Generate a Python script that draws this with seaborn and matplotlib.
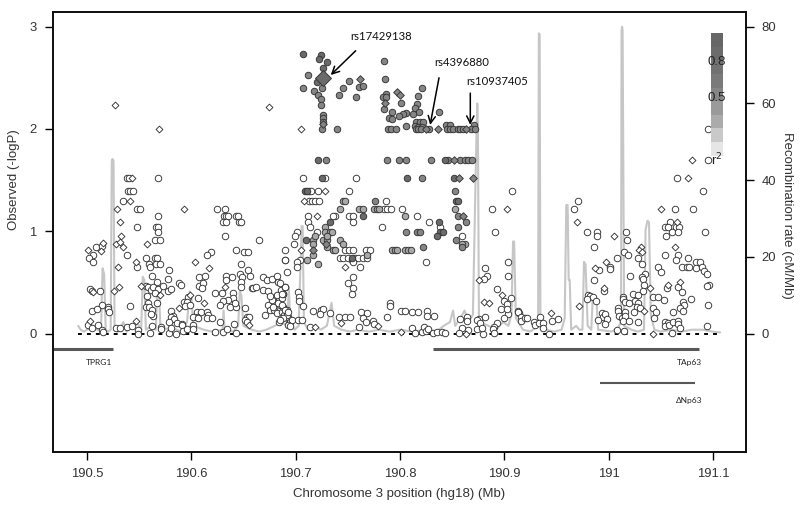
import matplotlib
matplotlib.use("Agg")
import matplotlib.pyplot as plt
import pandas as pd
import seaborn as sns

BASE_MB = 190.0

white_circles = [
(.5387,1.517),(.5406,1.517),(.5677,1.517),(.5396,1.393),(.5412,1.393),(.5444,1.393),(.5342,1.295),
(.5482,1.217),(.5508,1.217),(.6243,1.217),(.6326,1.217),(.5677,1.15),(.6313,1.15),(.6332,1.15),(.6355,1.15),(.6428,1.15),(.6444,1.15),
(.6307,1.093),(.6332,1.093),(.646,1.093),(.6473,1.093),(.5479,1.04),(.5661,1.04),(.5677,1.04),(.5684,.995),(.632,.953),
(.5652,.917),(.5703,.917),(.5083,.849),(.514,.855),(.506,.767),(.5019,.741),(.5054,.695),(.5386,.767),(.5565,.741),(.5652,.741),(.5668,.741),
(.6425,.816),(.6505,.8),(.6546,.793),(.6898,.82),(.6895,.718),(.6649,.917),(.6188,.793),(.6153,.767),(.5482,.653),
(.5594,.676),(.5604,.647),(.5661,.676),(.57,.676),(.562,.562),(.5786,.617),(.5773,.532),(.5674,.5),
(.6473,.676),(.6547,.617),(.6467,.578),(.6483,.555),(.6563,.565),(.6329,.565),(.6387,.549),(.6329,.52),
(.6077,.549),(.6131,.565),(.6077,.467),(.6109,.49),(.6099,.441),(.6473,.5),(.6473,.451),(.6579,.441),(.6595,.441),(.662,.457),
(.669,.549),(.6729,.52),(.677,.532),(.6818,.562),(.6834,.506),(.5885,.49),(.5898,.474),
(.5565,.467),(.5588,.451),(.5613,.425),(.5636,.458),(.5684,.44),(.5732,.464),(.5773,.419),(.5802,.432),
(.5028,.432),(.5044,.419),(.5124,.415),(.5655,.399),(.5572,.366),(.5971,.36),(.6061,.344),(.6227,.396),(.6297,.399),(.6403,.399),(.6403,.344),
(.6355,.327),(.6307,.317),(.6275,.278),(.6371,.262),(.6428,.262),(.6419,.295),(.5671,.295),(.5581,.295),(.5562,.262),(.5594,.262),(.5415,.272),
(.514,.282),(.5204,.262),(.5198,.236),(.5214,.213),(.5051,.22),(.5092,.236),(.5933,.31),(.5955,.31),(.5939,.272),(.5987,.278),
(.6058,.207),(.609,.213),(.6051,.164),(.6019,.164),(.6067,.148),(.6153,.207),(.6163,.181),(.6147,.155),(.6195,.155),
(.562,.23),(.5636,.174),(.5613,.19),(.5808,.22),(.5827,.174),(.5802,.158),(.5834,.142),(.5783,.116),(.5859,.106),(.5907,.09),
(.6515,.252),(.6531,.164),(.6556,.164),(.6515,.132),(.6531,.116),(.6278,.109),(.6412,.09),
(.5013,.083),(.5051,.05),(.5102,.08),(.514,.034),(.5156,.018),(.5275,.05),(.5316,.05),(.5386,.067),(.5428,.076),(.5492,.034),(.5492,0),
(.562,.076),(.5706,.067),(.5706,.04),(.5604,.008),(.5786,.008),(.5802,.05),(.585,0),(.5907,.083),(.5917,.024),(.5962,.04),(.6019,.083),(.6019,.04),
(.6227,.018),(.6307,.018),(.6345,.04),(.6425,.01),
(.669,.425),(.6738,.415),(.6786,.35),(.6818,.376),(.6857,.425),(.6898,.458),(.6882,.386),(.6732,.278),(.677,.327),(.6754,.229),(.6706,.181),
(.6793,.229),(.6818,.197),(.685,.278),(.6866,.213),(.6882,.262),(.6914,.229),(.693,.164),(.6844,.116),(.694,.1),(.6892,.181),(.6834,.295),(.6754,.366),(.6866,.344),(.678,.262),
(.7074,1.517),(.7281,1.517),(.7579,1.517),(.7131,1.393),(.7144,1.393),(.7218,1.393),(.7512,1.393),(.9071,1.393),
(.7131,1.295),(.716,1.295),(.7186,1.295),(.7227,1.295),(.7869,1.295),(.7847,1.217),(.7873,1.217),(.7917,1.217),(.8023,1.217),(.8886,1.217),
(.7115,1.15),(.7377,1.15),(.7355,1.15),(.7515,1.15),(.7553,1.15),(.816,1.15),(.7122,1.093),(.755,1.093),(.8279,1.093),(.7138,1.04),(.7825,1.04),(.8384,1.04),
(.701,.995),(.7208,.995),(.8911,.995),(.6994,.953),(.8598,.953),(.6984,.88),(.7473,.82),(.7512,.82),(.7547,.82),(.7675,.82),(.7713,.82),
(.7425,.741),(.7457,.741),(.7505,.741),(.7569,.741),(.7601,.741),(.7649,.741),(.7687,.741),(.6895,.718),(.7042,.718),(.7544,.718),
(.7016,.695),(.7547,.695),(.8247,.695),(.7617,.653),(.701,.653),(.6914,.6),(.7547,.549),(.7505,.49),(.7547,.441),(.7537,.383),
(.8819,.637),(.8831,.562),(.8806,.532),(.904,.695),(.904,.565),(.8927,.432),(.8998,.32),(.9062,.344),(.9023,.288),(.8966,.236),(.9039,.187),(.9023,.236),(.8998,.155),(.9135,.22),(.9145,.2),
(.7026,.402),(.7035,.36),(.7035,.317),(.7067,.272),(.685,.49),(.6898,.458),(.6882,.386),(.6866,.386),
(.6866,.278),(.6898,.23),(.6914,.18),(.693,.215),(.6882,.148),(.6946,.116),(.6962,.132),(.7026,.132),(.7058,.132),(.693,.083),(.6946,.073),(.685,.132),
(.7163,.22),(.724,.23),(.7259,.24),(.7234,.19),(.7329,.197),(.7138,.067),(.7419,.164),(.7473,.164),(.7521,.164),
(.7627,.207),(.7681,.204),(.7649,.148),(.7675,.116),(.7611,.067),(.7745,.125),(.7754,.09),(.7873,.164),(.7905,.301),(.7905,.268),
(.801,.223),(.8048,.216),(.8119,.213),(.8176,.207),(.8256,.22),(.8256,.174),(.8323,.174),
(.8112,.05),(.8144,.008),(.8208,.018),(.8234,.067),(.825,.024),(.8272,.04),(.8314,.008),(.8352,.018),(.84,.018),(.8432,.01),
(.8576,.142),(.864,.164),(.864,.125),(.8592,.05),(.8566,.01),(.8656,.034),(.8758,.142),(.8816,.164),(.8736,.132),(.8768,.1),(.8736,.04),(.88,0),(.879,.05),
(.8927,.1),(.8905,.067),(.8895,.04),(.8905,.008),
(1.066,1.517),(1.091,1.393),(.9711,1.295),(.9666,1.217),(1.0641,1.217),(1.0807,1.217),(1.059,1.093),(1.0542,1.04),(1.0574,1.04),(1.0644,1.04),(1.0679,1.04),
(1.0606,.995),(1.0664,.995),(1.0549,.953),(1.0922,.995),(.9791,.995),(.9887,.995),(.9887,.953),(1.0168,.995),(1.0178,.917),(.9865,.85),
(1.0149,.793),(1.0184,.767),(1.0085,.741),(1.0286,.741),(1.0542,.767),(1.067,.767),(1.0648,.718),(1.0766,.741),
(1.0015,.653),(1.0015,.632),(.9913,.617),(1.0325,.676),(1.0478,.653),(1.0504,.6),(1.0708,.653),(1.075,.653),(1.0772,.653),(1.0836,.695),(1.0874,.695),
(1.0839,.637),(1.0894,.653),(1.0916,.614),(1.0948,.585),(.9865,.52),(1.021,.565),(1.035,.58),(1.0325,.555),(1.0334,.532),(1.0344,.477),(1.0334,.419),
(1.0565,.441),(1.067,.458),(1.0702,.405),(1.0964,.477),(1.0941,.464),(.996,.415),(.98,.376),(.9823,.366),(.9797,.334),(.9855,.36),(.9881,.317),
(1.0143,.36),(1.0143,.334),(1.0159,.308),(1.02,.295),(1.0239,.383),(1.0287,.376),(1.0255,.32),(1.028,.295),(1.027,.262),(1.043,.36),(1.0478,.36),
(1.0536,.327),(1.0715,.31),(1.0724,.278),(1.0686,.246),(1.0718,.223),(1.079,.334),(1.0958,.275),(1.0302,.246),(1.0248,.213),(1.0424,.252),(1.0453,.213),(1.044,.148),(1.0622,.207),
(1.0095,.246),(1.0095,.223),(1.0159,.213),(1.0101,.174),(1.0127,.148),(1.0159,.174),(1.0143,.125),(1.02,.125),(1.0286,.116),
(.9935,.203),(.9951,.164),(.9897,.132),(.9968,.19),(.9984,.142),(.9968,.093),(1.0085,.034),(1.0149,.024),(1.0606,.008),
(1.0542,.116),(1.0574,.106),(1.0542,.076),(1.058,.083),(1.0622,.116),(1.0664,.125),(1.0664,.093),(1.0686,.05),(1.0942,.076),
(.9136,.213),(.9162,.164),(.9162,.125),(.92,.148),(.9222,.148),(.9286,.116),(.9296,.083),(.9344,.164),(.9337,.106),(.9376,.106),(.9369,.05),(.943,0),(.9455,.125),(.9513,.138),
(1.0954,1.995),(1.0954,1.695),
]

white_diamonds = [
(.5265,2.23),(.5687,2.0),(.6745,2.21),(.7051,1.995),(.5428,1.517),(.5415,1.295),(.5291,1.217),(.5927,1.217),(.5316,1.093),(.5326,.953),
(.5275,.88),(.5316,.897),(.5345,.85),(.5578,.88),(.5156,.888),(.5134,.81),(.5013,.816),(.6035,.695),(.6169,.637),(.547,.695),(.53,.653),
(.5517,.467),(.506,.402),(.5262,.415),(.531,.451),(.57,.376),(.5987,.376),(.6323,.451),(.5885,.25),(.6125,.301),(.6553,.083),(.5028,.125),(.547,.125),
(.7281,1.393),(.7083,1.295),(.7208,1.15),(.903,1.217),(.7051,.82),(.7473,.653),(.8761,.52),(.8975,.376),(.8809,.31),(.8857,.295),
(.7186,.067),(.7432,.106),(.7793,.073),(.801,.018),(.863,0),
(1.0766,1.517),(1.0504,1.217),(.97,1.093),(1.0654,1.093),(1.005,.953),(1.0312,.849),(1.029,.816),(1.0325,.793),(1.0638,.85),(.9976,.695),(.9868,.637),
(1.0398,.441),(1.0574,.477),(1.0686,.503),(.996,.441),(.9714,.268),(1.0344,.22),(1.043,0),(.9446,.2),(1.0797,1.695),
]

light_circles = [
(.7451,1.295),(.7473,1.295),(.7428,1.217),(.7611,1.217),(.7649,1.217),(.7754,1.217),(.7777,1.217),(.7799,1.217),(.8531,1.217),
(.8045,1.15),(.7281,1.04),(.7281,.995),(.733,.995),(.7345,.995),(.717,.917),(.7265,.917),(.7297,.917),(.7425,.917),(.717,.88),(.7457,.88),(.8624,.88),(.8598,.88),
(.7361,.82),(.7377,.82),(.7927,.82),(.7953,.82),(.7975,.82),(.8048,.82),(.8074,.82),(.8106,.82),(.717,.767),(.7687,.767),(.7112,.718),(.7218,.676),(.7186,.953),(.7297,.953),(.7297,.85),
]

gray_circles = [
(.7291,1.696),(.7873,1.696),(.7991,1.696),(.8055,1.696),(.8298,1.696),(.8464,1.696),(.8576,1.696),(.8624,1.696),(.8656,1.696),(.8688,1.696),
(.8211,1.517),(.8531,1.393),(.7758,1.295),(.8553,1.15),(.8633,1.093),(.8553,1.04),(.8058,.995),(.816,.995),(.8192,.995),(.8537,.917),(.8224,.85),(.8598,.85),
(.7122,2.523),(.7074,2.403),(.725,2.403),(.7176,2.373),(.7211,2.328),(.7243,2.289),(.7243,2.23),(.7266,2.136),(.7266,2.103),(.7266,2.07),(.725,1.995),(.7397,1.995),
(.7508,2.471),(.7451,2.403),(.7419,2.331),(.7576,2.308),(.7608,2.409),(.7646,2.419),(.7847,2.667),(.7857,2.484),(.7863,2.341),(.784,2.315),(.7866,2.308),(.7847,2.191),
(.8007,2.25),(.8215,2.396),(.8176,2.325),(.816,2.243),(.8144,2.201),(.8186,2.168),(.7921,2.168),(.8055,2.152),(.8026,2.142),(.7994,2.129),(.8129,2.149),(.8371,2.168),
(.7895,2.109),(.7927,2.093),(.8055,2.028),(.8154,2.07),(.8192,2.07),(.8224,2.07),(.8144,2.028),(.8176,2.022),(.8208,2.022),(.8282,1.995),(.8442,2.038),(.848,2.038),(.8713,2.038),
(.7889,1.995),(.7914,1.995),(.7962,1.995),(.8154,1.995),(.8176,1.995),(.8198,1.995),(.8448,1.995),(.848,1.995),(.8512,1.995),(.8553,1.995),(.8576,1.995),(.8608,1.995),(.8678,1.995),(.872,1.995),
]

dark_circles = [
(.7074,2.729),(.724,2.722),(.7221,2.68),(.7298,2.654),(.726,2.595),(.7202,2.461),(.7218,1.696),(.8432,1.696),
(.725,1.517),(.807,1.517),(.852,1.517),(.709,1.393),(.7106,1.393),(.8537,1.295),(.8553,1.295),(.7643,1.15),(.733,1.093),(.8374,1.093),
(.8384,.995),(.8416,.995),(.8352,.953),(.7099,.917),(.7537,.741),
]

gray_diamonds = [
(.7266,2.048),(.7617,2.487),(.7975,2.357),(.8,2.331),(.7857,2.25),(.825,1.995),(.8368,1.995),(.8633,1.995),(.8518,1.696),(.857,1.517),(.8704,1.517),(.8601,1.15),(.7291,.88),(.7163,.82),
]

lead_snp = [(.7266,2.494)]

recomb_rate = [
(.4917,2),(.494,1),(.497,.5),(.50,1),(.505,1.5),(.510,1),(.5135,1),(.515,17),(.5165,15.5),(.518,1),(.520,.5),(.5228,1),
(.5238,45),(.5245,45.5),(.5255,45),(.5265,1),(.530,.5),(.535,3),(.538,.5),(.542,2),(.548,3),(.552,1),(.5535,14.8),(.555,14),
(.5565,1),(.562,2),(.566,1),(.5675,12),(.569,12),(.5705,1),(.582,1.5),(.590,.5),(.596,3),(.5985,11),(.600,10),(.602,2),(.612,1),
(.620,.5),(.630,1),(.631,6),(.632,1),(.640,.5),(.645,2),(.6465,11),(.648,10),(.650,2),(.658,1),(.665,.5),(.672,1),(.680,2),
(.686,3),(.692,2),(.6935,12),(.695,3),(.699,1),(.703,2),(.7058,28),(.7068,28),(.708,3),(.712,1),(.718,2),(.724,1),(.730,2),
(.7345,8),(.737,2),(.744,1),(.752,.5),(.760,1),(.770,.5),(.780,1),(.790,.5),(.800,1),(.812,.5),(.825,1),(.835,.5),(.842,2),
(.848,3),(.851,6),(.853,2),(.858,4),(.862,6),(.866,3),(.870,5),(.8735,53),(.8742,60),(.8748,53),(.8758,3),(.885,2),(.892,1),
(.899,3),(.904,2),(.907,5),(.9085,24),(.9095,24),(.9112,4),(.918,1),(.925,.5),(.9325,2),(.9332,78.3),(.9340,78),(.9347,2),(.94,1),
(.948,.5),(.955,1),(.958,4),(.9595,33.5),(.9608,33.5),(.9618,14),(.9628,14),(.9642,1),(.969,2),(.972,1),(.975,1),(.9765,18.7),
(.978,18),(.980,2),(.9835,1),(.985,10),(.9885,9),(.990,1),(1.003,.5),(1.009,1.5),(1.012,3),(1.0125,79),(1.013,80),(1.0135,79),
(1.015,2),(1.022,1),(1.028,.5),(1.034,1),(1.0355,27),(1.0373,29.4),(1.0388,29),(1.0405,5),(1.044,1),(1.05,.5),(1.06,1),(1.07,.5),
(1.08,1),(1.09,1),(1.10,.5),(1.107,.3),
]

gene_names = ["TPRG1", "TAp63", "\u0394Np63"]
gene_starts = [.467, .8315, .9919]
gene_ends = [.5247, 1.0863, 1.083]
gene_levels = [-.155, -.155, -.484]
gene_widths = [2.2, 2.2, 1.5]
gene_label_x = [.512, 1.0772, 1.0772]
gene_label_y = [-.279, -.279, -.65]

x_ticks = [190.5, 190.6, 190.7, 190.8, 190.9, 191.0, 191.1]
x_tick_labels = ["190.5", "190.6", "190.7", "190.8", "190.9", "191", "191.1"]
y_ticks = [0, 1, 2, 3]
rate_ticks = [0, 20, 40, 60, 80]
legend_colors = ["#676767", "#6c6c6c", "#727272", "#7a7a7a", "#858585", "#9a9a9a", "#ababab", "#c9c9c9", "#e6e6e6"]

sns.set_style("white")
plt.rcParams["font.family"] = ["Liberation Sans", "DejaVu Sans"]
fig = plt.figure(figsize=(8, 5.08), dpi=100)
ax = fig.add_axes([52.5 / 800, 1 - 452 / 508, (745.7 - 52.5) / 800, (452 - 11.5) / 508])
ax2 = ax.twinx()
ax.set_zorder(2)
ax.patch.set_visible(False)

recomb = pd.DataFrame(recomb_rate, columns=["pos", "rate"])
recomb["pos"] += BASE_MB
sns.lineplot(data=recomb, x="pos", y="rate", ax=ax2, color="#c6c6c6", lw=1.5, estimator=None, sort=False, errorbar=None)

ax.plot([BASE_MB + .4917, BASE_MB + 1.105], [0, 0], color="black", lw=1.4, ls=(0, (2, 2.6)), zorder=1)

layers = [
    (white_circles, "o", "white", 22),
    (white_diamonds, "D", "white", 12),
    (light_circles, "o", "#a8a8a8", 22),
    (gray_circles, "o", "#858585", 22),
    (dark_circles, "o", "#6a6a6a", 22),
    (gray_diamonds, "D", "#858585", 15),
    (lead_snp, "D", "#6b6b6b", 66),
]
for pts, marker, fill, size in layers:
    frame = pd.DataFrame(pts, columns=["pos", "logp"])
    frame["pos"] += BASE_MB
    sns.scatterplot(data=frame, x="pos", y="logp", ax=ax, marker=marker, color=fill, s=size,
                    edgecolor="#333333", linewidth=0.65, zorder=3, legend=False)

for name, a, b, lev, w, lx, ly in zip(gene_names, gene_starts, gene_ends, gene_levels, gene_widths, gene_label_x, gene_label_y):
    ax.plot([BASE_MB + a, BASE_MB + b], [lev, lev], color="#585858", lw=w, solid_capstyle="butt", clip_on=False)
    ax.text(BASE_MB + lx, ly, name, ha="center", va="center", fontsize=6, family="Lato", color="#222222")

ax.set_xlim(190.467, 191.1315)
ax.set_ylim(-1.158, 3.148)
ax2.set_ylim(-1.158 * 102.3 / 3.835, 3.148 * 102.3 / 3.835)
ax.set_xticks(x_ticks, x_tick_labels)
ax.set_yticks(y_ticks)
ax2.set_yticks(rate_ticks)
for a in (ax, ax2):
    a.tick_params(left=a is ax, right=a is ax2, bottom=a is ax, length=5.5, width=1, labelsize=9.4, pad=6,
                  color="black", labelcolor="#333333")
    for s in a.spines.values():
        s.set_linewidth(1.3)
        s.set_color("#111111")
ax.set_xlabel("")
ax.set_ylabel("")
ax2.set_ylabel("")
fig.text(399 / 800, 1 - 494 / 508, "Chromosome 3 position (hg18) (Mb)", ha="center", va="center", fontsize=9.5, color="#333333")
fig.text(14 / 800, 1 - 180 / 508, "Observed (-logP)", rotation=90, ha="center", va="center", fontsize=9.5, color="#333333")
fig.text(787 / 800, 1 - 215 / 508, "Recombination rate (cM/Mb)", rotation=270, ha="center", va="center", fontsize=9.5, color="#333333")

cax = ax.inset_axes([(710.7 - 52.5) / 693.2, (452 - 155.7) / 440.5, 12.6 / 693.2, (155.7 - 33.3) / 440.5])
sns.heatmap(pd.DataFrame({"r2": list(range(len(legend_colors)))}), ax=cax, cbar=False, xticklabels=False, yticklabels=False,
            cmap=matplotlib.colors.ListedColormap(legend_colors))
cax.set_xlabel("")
cax.set_ylabel("")
ax.text(191.104, 2.656, "0.8", ha="center", va="center", fontsize=9.5, color="#222222", zorder=6)
ax.text(191.104, 2.30, "0.5", ha="center", va="center", fontsize=9.5, color="#222222", zorder=6)
ax.text(191.104, 1.695, "r$^2$", ha="center", va="center", fontsize=9.5, color="#222222", zorder=6)

annots = [
    ("rs17429138", (190.7337, 2.527), (190.7576, 2.764), (190.7525, 2.85)),
    ("rs4396880", (190.8290, 2.04), (190.8375, 2.50), (190.8330, 2.60)),
    ("rs10937405", (190.8675, 2.04), (190.8675, 2.35), (190.8635, 2.41)),
]
for label, tip, tail, pos in annots:
    ax.annotate("", xy=tip, xytext=tail, arrowprops=dict(arrowstyle="->", color="black", lw=1.1, mutation_scale=13, shrinkA=0, shrinkB=0), zorder=7)
    ax.text(pos[0], pos[1], label, ha="left", va="bottom", fontsize=8.2, family="Lato", color="#111111", zorder=7)

fig.savefig("out.png", dpi=100)
